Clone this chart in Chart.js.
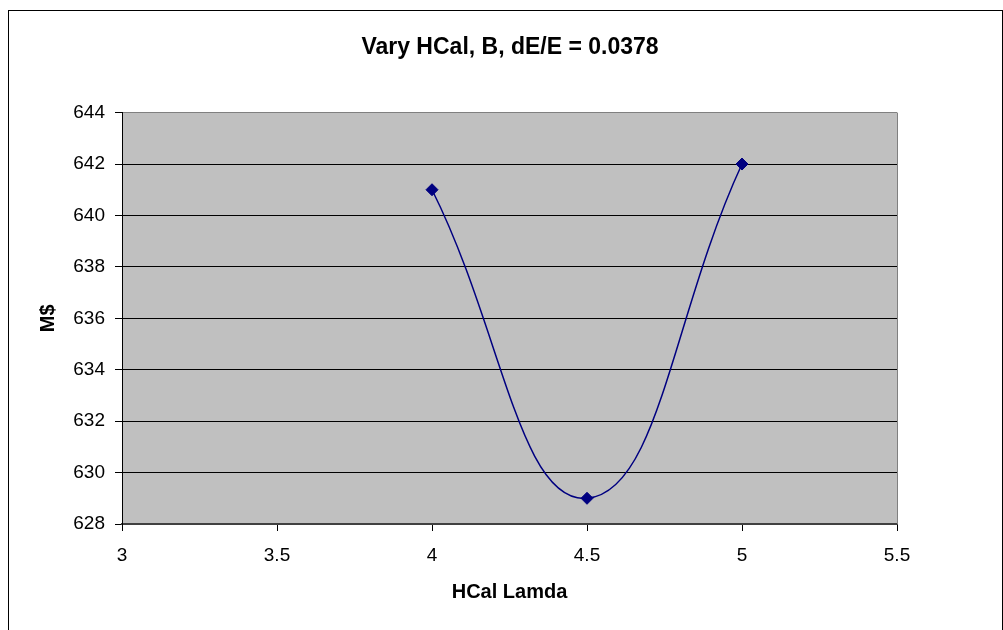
<!DOCTYPE html>
<html>
<head>
<meta charset="utf-8">
<script src="https://cdn.jsdelivr.net/npm/chart.js@4.4.1/dist/chart.umd.min.js"></script>
<style>
  html, body { margin: 0; padding: 0; background: #fff; }
  #wrap { position: relative; width: 1003px; height: 630px; overflow: hidden; }
  #frame { position: absolute; left: 8px; top: 10px; width: 993px; height: 700px; border: 1px solid #000; pointer-events: none; }
  canvas { position: absolute; left: 0; top: 0; }
</style>
</head>
<body>
<div id="wrap">
  <canvas id="chart" width="1003" height="630"></canvas>
  <div id="frame"></div>
</div>
<script>
// данные графика
const lamda = [4, 4.5, 5];
const cost = [641, 629, 642];
const xTicks = [3, 3.5, 4, 4.5, 5, 5.5];
const yTicks = [628, 630, 632, 634, 636, 638, 640, 642, 644];

const chartTitle = 'Vary HCal, B, dE/E = 0.0378';
const xTitle = 'HCal Lamda';
const yTitle = 'M$';

const FONT = "'Liberation Sans', Arial, sans-serif";

// серый фон области построения и правая рамка
const plotBg = {
    id: 'plotBg',
    beforeDraw(chart) {
        const { ctx, chartArea: a } = chart;
        ctx.save();
        ctx.fillStyle = '#c0c0c0';
        ctx.fillRect(a.left, a.top, a.right - a.left, a.bottom - a.top);
        ctx.restore();
    },
    beforeDatasetsDraw(chart) {
        const { ctx, chartArea: a } = chart;
        ctx.save();
        ctx.strokeStyle = '#808080';
        ctx.lineWidth = 1;
        ctx.beginPath();
        ctx.moveTo(a.right + 0.5, a.top);
        ctx.lineTo(a.right + 0.5, a.bottom);
        ctx.stroke();
        ctx.restore();
    }
};

new Chart(document.getElementById('chart'), {
    type: 'line',
    data: {
        datasets: [{
            data: lamda.map((x, i) => ({ x: x, y: cost[i] })),
            borderColor: '#000080',
            backgroundColor: '#000080',
            borderWidth: 1.5,
            tension: 0.45,
            pointStyle: 'rectRot',
            pointRadius: 6,
            pointBorderWidth: 1,
            fill: false
        }]
    },
    options: {
        responsive: false,
        animation: false,
        layout: { padding: { left: 17, right: 0, top: 0, bottom: 0 } },
        plugins: {
            legend: { display: false },
            tooltip: { enabled: false },
            title: {
                display: true,
                text: chartTitle,
                color: '#000',
                font: { family: FONT, size: 23, weight: 'bold' },
                padding: { top: 34, bottom: 51 }
            }
        },
        scales: {
            x: {
                type: 'linear',
                min: 3,
                max: 5.5,
                afterBuildTicks: s => { s.ticks = xTicks.map(v => ({ value: v })); },
                afterFit: s => { s.height = 106; },
                grid: { drawOnChartArea: false, drawTicks: true, tickLength: 7, tickColor: '#000' },
                border: { color: '#404040', width: 2 },
                ticks: {
                    color: '#000',
                    padding: 13,
                    font: { family: FONT, size: 19 },
                    callback: v => String(v)
                },
                title: {
                    display: true,
                    text: xTitle,
                    color: '#000',
                    font: { family: FONT, size: 20, weight: 'bold' },
                    padding: { top: 0, bottom: 26 }
                }
            },
            y: {
                min: 628,
                max: 644,
                afterBuildTicks: s => { s.ticks = yTicks.map(v => ({ value: v })); },
                afterFit: s => { s.width = 105; },
                grid: {
                    color: c => (c.tick && c.tick.value === 644) ? '#808080' : '#000',
                    lineWidth: 1,
                    tickLength: 7,
                    tickColor: '#000'
                },
                border: { color: '#000', width: 1 },
                ticks: {
                    color: '#000',
                    padding: 10,
                    font: { family: FONT, size: 19 },
                    callback: v => String(v)
                },
                title: {
                    display: true,
                    text: yTitle,
                    color: '#000',
                    font: { family: FONT, size: 20, weight: 'bold' },
                    padding: { top: 19, bottom: 0 }
                }
            },
            // пустая правая ось, только чтобы задать отступ справа
            yRight: {
                position: 'right',
                display: true,
                min: 628,
                max: 644,
                afterFit: s => { s.width = 106; },
                grid: { display: false, drawOnChartArea: false },
                border: { display: false },
                ticks: { display: false }
            }
        }
    },
    plugins: [plotBg]
});
</script>
</body>
</html>
